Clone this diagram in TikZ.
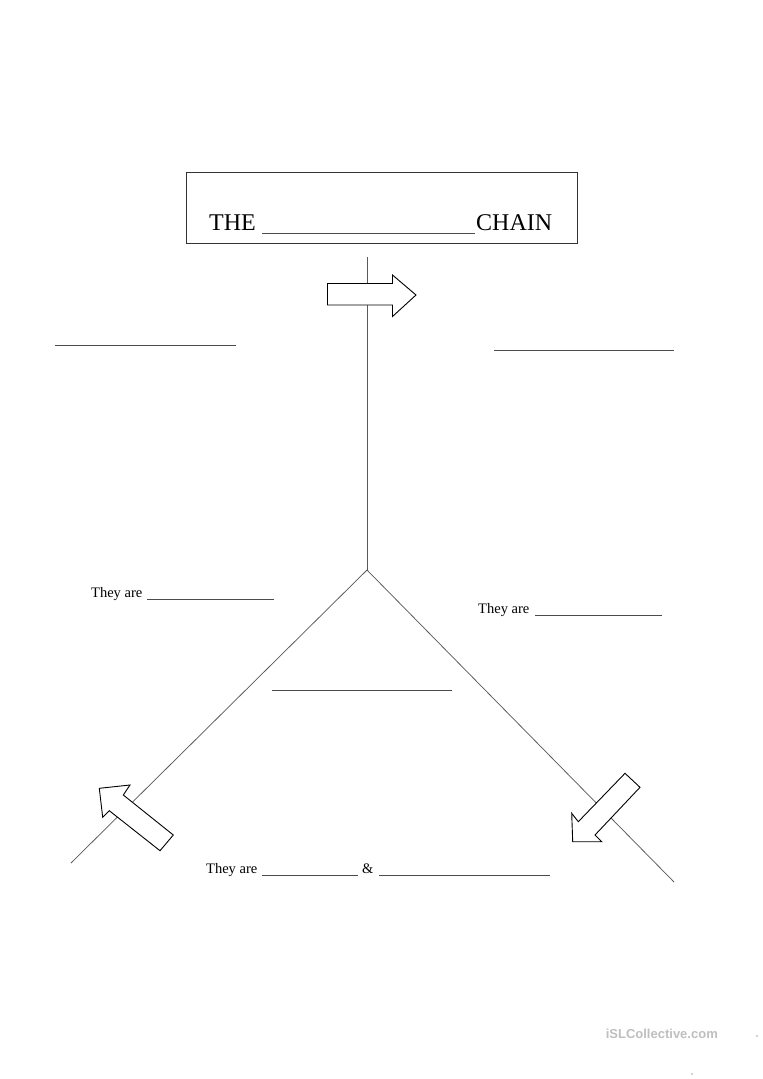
\documentclass[tikz,border=0pt]{standalone}
\usepackage{fontspec}
\setmainfont{Liberation Serif}
\newfontfamily\wmfont{Liberation Sans}
\begin{document}
\begin{tikzpicture}[x=1pt,y=-1pt,
  conn/.style={draw=black!65, line width=0.75pt},
  blank/.style={draw=black!70, line width=0.7pt},
  arrowshape/.style={draw=black, line width=0.9pt, fill=white, line join=miter},
  lbl/.style={font=\fontsize{14.5}{17}\selectfont, inner sep=0pt, anchor=base west},
  ttl/.style={font=\fontsize{24}{28}\selectfont, inner sep=0pt, anchor=base west}]
\useasboundingbox (0,0) rectangle (763,1079);
\fill[white] (0,0) rectangle (763,1079);

% title box
\node[draw=black!80, line width=0.8pt, minimum width=391pt, minimum height=71pt, inner sep=0pt] (title) at (381.5,207.5) {};
\node[ttl] (the) at (209,230) {THE};
\node[ttl] (chain) at (476,230) {CHAIN};
\coordinate (tb1) at (262,233); \coordinate (tb2) at (475,233);
\draw[blank] (tb1) -- (tb2);

% main lines
\coordinate (top) at (367,257);
\coordinate (hub) at (367,570);
\coordinate (lft) at (71,863);
\coordinate (rgt) at (674,882);
\draw[conn] (top) -- (hub);
\draw[conn] (hub) -- (lft);
\draw[conn] (hub) -- (rgt);

% block arrows
\draw[arrowshape] (327.5,283.5) -- (392.5,283.5) -- (392.5,275) -- (416,295) -- (392.5,316.5) -- (392.5,305) -- (327.5,305) -- cycle;
\draw[arrowshape] (173.3,835) -- (123.3,795) -- (130,785) -- (99.3,788.3) -- (102.7,817.3) -- (109.3,810.7) -- (160,850.7) -- cycle;
\draw[arrowshape] (625,773.3) -- (640,787.3) -- (595,835) -- (601.7,841.7) -- (572.7,841.7) -- (571.7,813.3) -- (578.3,821.7) -- cycle;

% top blanks
\coordinate (a1) at (55,345); \coordinate (a2) at (236,345);
\draw[blank, line width=0.5pt] (a1) -- (a2);
\coordinate (b1) at (494,350); \coordinate (b2) at (674,350);
\draw[blank, line width=1pt] (b1) -- (b2);

% they are (left)
\node[lbl] (tl) at (91,597) {They are};
\coordinate (c1) at (147,599.5); \coordinate (c2) at (274,599.5);
\draw[blank] (c1) -- (c2);

% they are (right)
\node[lbl] (tr) at (478,613) {They are};
\coordinate (d1) at (535,615.5); \coordinate (d2) at (662,615.5);
\draw[blank] (d1) -- (d2);

% middle blank
\coordinate (m1) at (272,690.5); \coordinate (m2) at (452,690.5);
\draw[blank] (m1) -- (m2);

% bottom
\node[lbl] (tb) at (206,873) {They are};
\coordinate (e1) at (262,875.5); \coordinate (e2) at (358,875.5);
\draw[blank] (e1) -- (e2);
\node[lbl] (amp) at (362,873) {\&};
\coordinate (f1) at (379,875.5); \coordinate (f2) at (550,875.5);
\draw[blank] (f1) -- (f2);

% watermark
\node[font=\wmfont\bfseries\fontsize{13}{15}\selectfont, text=black!25, inner sep=0pt, anchor=base east] (wm) at (718,1038) {iSLCollective.com};
\fill[black!35] (757,1036) circle (0.9);
\fill[black!35] (692,1074) circle (0.9);
\end{tikzpicture}
\end{document}
